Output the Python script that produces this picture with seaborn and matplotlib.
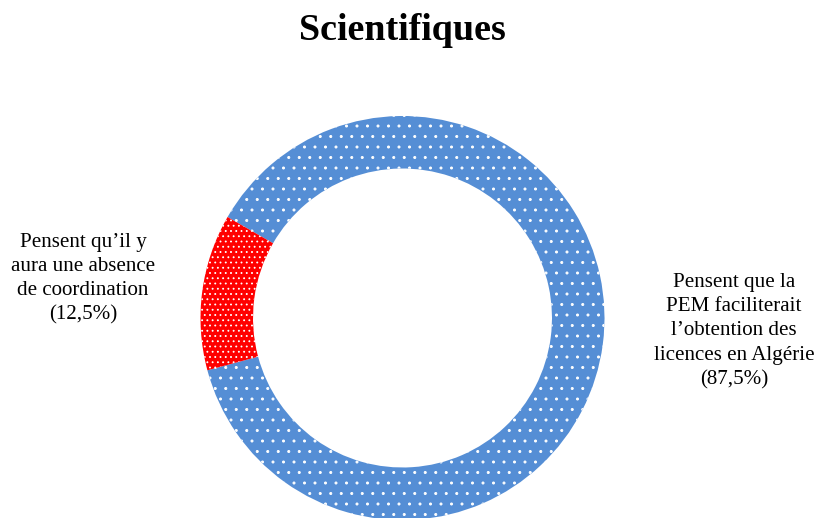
import matplotlib
matplotlib.use("Agg")
import matplotlib.pyplot as plt
import seaborn as sns

# Survey shares
categories = [
    "Pensent que la\nPEM faciliterait\nl\u2019obtention des\nlicences en Alg\u00e9rie",
    "Pensent qu\u2019il y\naura une absence\nde coordination",
]
shares = [87.5, 12.5]
share_labels = ["(87,5%)", "(12,5%)"]
colors = ["#558ED5", "#FF0000"]
hatches = [".", ".."]
title = "Scientifiques"

sns.set_theme(style="white")
plt.rcParams["font.family"] = ["Liberation Serif", "DejaVu Serif"]
plt.rcParams["text.color"] = "black"

# hatch density is tied to dpi, so the pattern scale is set through it
DPI = 63
W, H = 819, 518


def px(size):
    """font size in points for a given pixel size"""
    return size * 72 / DPI


plt.rcParams["hatch.linewidth"] = px(0.9)

fig = plt.figure(figsize=(W / DPI, H / DPI), dpi=DPI)
ax = fig.add_axes([0, 0, 1, 1])

center = (402.5, H - 318)
radius = 202
ring = dict(width=0.26 * radius, linewidth=0)

# solid ring
ax.pie(shares, colors=colors, startangle=195, counterclock=True,
       radius=radius, center=center, wedgeprops=ring)
# white dot pattern on top
wedges, _ = ax.pie(shares, colors=["none", "none"], startangle=195,
                   counterclock=True, radius=radius, center=center,
                   wedgeprops=ring)
for w, h in zip(wedges, hatches):
    w.set_edgecolor("white")
    w.set_linewidth(0)
    w.set_hatch(h)

ax.set_xlim(0, W)
ax.set_ylim(0, H)
ax.set_aspect("equal")
ax.axis("off")

ax.text(402, H - 31, title, ha="center", va="center",
        fontsize=px(38), fontweight="bold")
ax.text(734, H - 331, categories[0] + "\n" + share_labels[0],
        ha="center", va="center", fontsize=px(21), linespacing=1.37)
ax.text(83, H - 279, categories[1] + "\n" + share_labels[1],
        ha="center", va="center", fontsize=px(21), linespacing=1.37)

fig.savefig("out.png", dpi=DPI)
